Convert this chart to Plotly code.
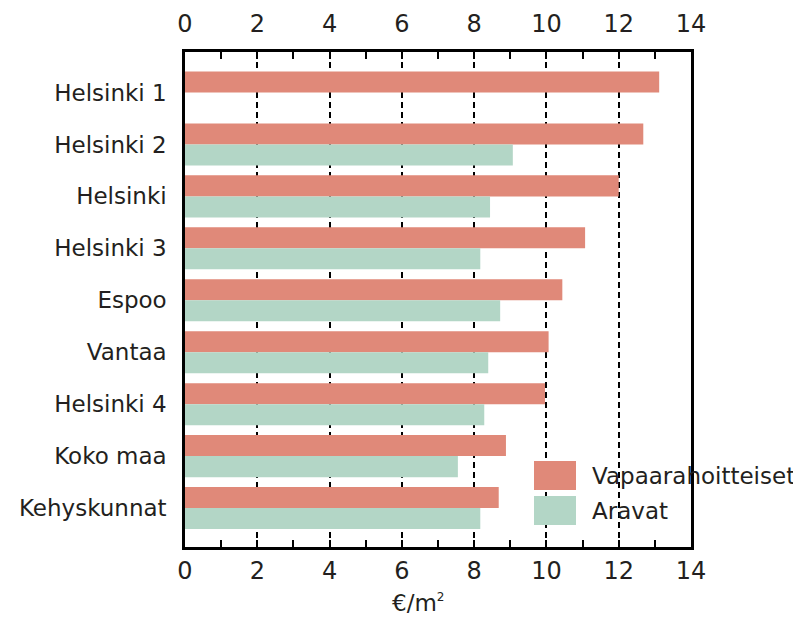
import plotly.graph_objects as go

categories = ["Helsinki 1", "Helsinki 2", "Helsinki", "Helsinki 3", "Espoo",
              "Vantaa", "Helsinki 4", "Koko maa", "Kehyskunnat"]
vapaarahoitteiset = [13.12, 12.68, 12.0, 11.07, 10.44, 10.06, 9.96, 8.88, 8.68]
aravat = [None, 9.07, 8.44, 8.17, 8.72, 8.39, 8.28, 7.55, 8.17]
series_names = ["Vapaarahoitteiset", "Aravat"]
x_ticks = [0, 2, 4, 6, 8, 10, 12, 14]
x_title = "€/m<sup><span style='font-size:12px'>2</span></sup>"

RED = "#E08979"
GREEN = "#B3D6C6"
TXT = "#231F20"
FONT = "DejaVu Sans"

OFF = 8  # page body margin
W, H = 801 - OFF, 618 - OFF
L, R, T, B = 185 - OFF, 691 - OFF, 52 - OFF, 547 - OFF

def px(xp):
    return (xp - OFF - L) / (R - L)

def py(yp):
    return (B - (yp - OFF)) / (B - T)

fig = go.Figure()
fig.add_trace(go.Bar(y=categories, x=vapaarahoitteiset, orientation="h",
                     name=series_names[0], marker=dict(color=RED, line=dict(width=0))))
fig.add_trace(go.Bar(y=categories, x=aravat, orientation="h",
                     name=series_names[1], marker=dict(color=GREEN, line=dict(width=0))))
# empty helper trace so the mirrored top axis (with labels) is drawn
fig.add_trace(go.Scatter(x=[], y=[], xaxis="x2", yaxis="y", mode="markers",
                         showlegend=False, hoverinfo="skip"))

common_x = dict(
    range=[0, 14], tickvals=x_ticks, ticktext=[str(v) for v in x_ticks],
    tickfont=dict(family=FONT, size=24, color=TXT),
    ticks="inside", ticklen=7, tickwidth=1.5, tickcolor="black",
    minor=dict(dtick=1, ticks="inside", ticklen=7, tickwidth=1.5, tickcolor="black", showgrid=False),
    showline=True, linecolor="black", linewidth=2.5,
    zeroline=False, automargin=False,
)

fig.update_layout(
    width=W, height=H,
    margin=dict(l=L, r=W - R, t=T, b=H - B, pad=0, autoexpand=False),
    paper_bgcolor="white", plot_bgcolor="white",
    barmode="group", bargap=0.19, bargroupgap=0,
    showlegend=False,
    font=dict(family=FONT, color=TXT),
    xaxis=dict(**common_x, side="bottom", mirror=True,
               showgrid=True, gridcolor="black", gridwidth=2, griddash="6px,4px",
               ticklabelstandoff=0),
    xaxis2=dict(**common_x, side="top", overlaying="x", anchor="y",
                showgrid=False, ticklabelstandoff=8),
    yaxis=dict(autorange=False, range=[8.75, -0.78], type="category",
               categoryorder="array", categoryarray=categories,
               showline=True, linecolor="black", linewidth=2.5, mirror=True,
               ticks="", showgrid=False, zeroline=False, automargin=False,
               tickfont=dict(family=FONT, size=23, color=TXT),
               ticklabelstandoff=11),
)

# legend drawn as patches + labels
for i, (name, col) in enumerate(zip(series_names, [RED, GREEN])):
    y0 = 461 + i * 35
    fig.add_shape(type="rect", xref="paper", yref="paper",
                  x0=px(534), x1=px(576), y0=py(y0 + 29), y1=py(y0),
                  fillcolor=col, line=dict(width=0), layer="above")
    fig.add_annotation(text=name, xref="paper", yref="paper",
                       x=px(590), y=py(y0 + 14.5), xanchor="left", yanchor="middle",
                       showarrow=False, font=dict(family=FONT, size=23, color=TXT))

fig.add_annotation(text=x_title, xref="paper", yref="paper", x=px(418), y=py(603),
                   xanchor="center", yanchor="middle", showarrow=False,
                   font=dict(family=FONT, size=23, color=TXT))

fig.write_html("out.html")
